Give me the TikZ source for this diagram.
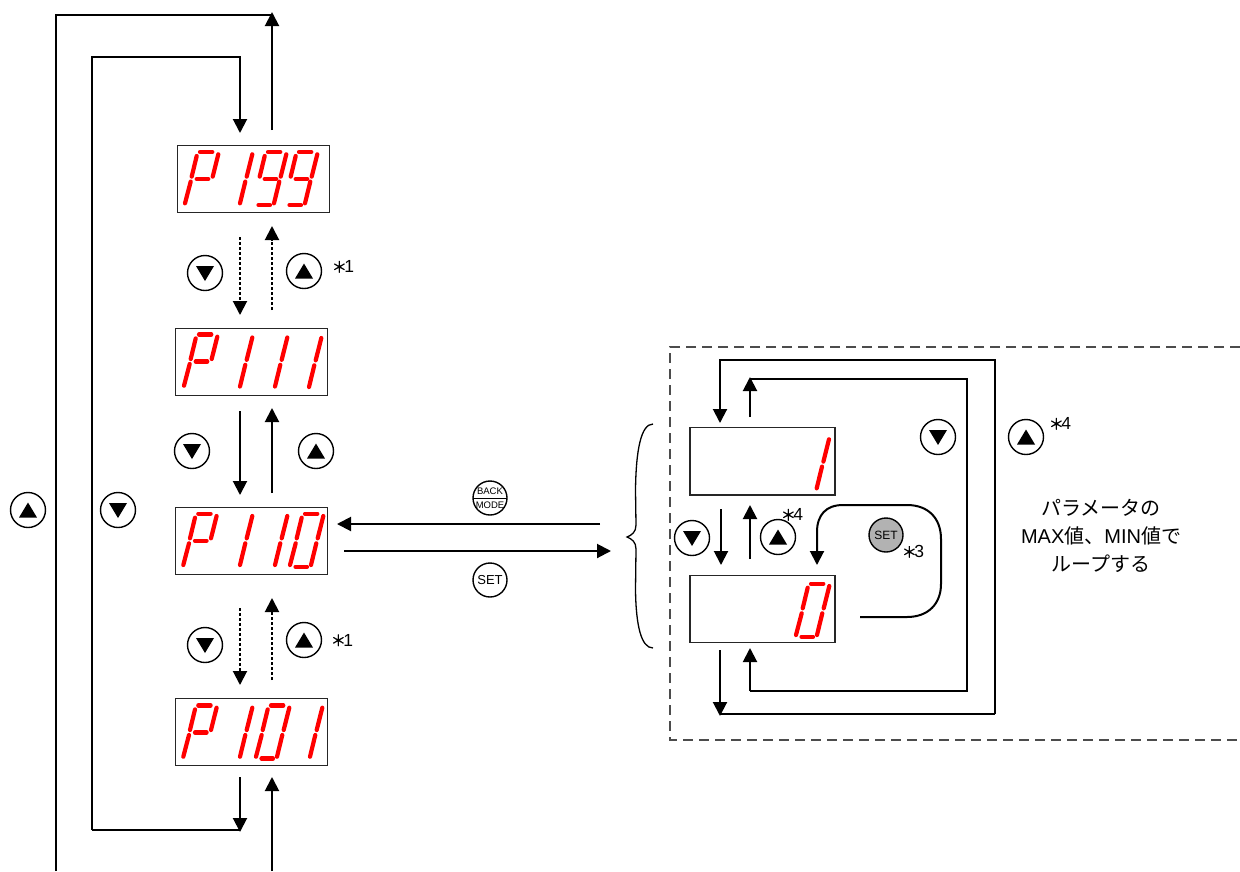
\documentclass[tikz,border=0pt]{standalone}
\usepackage{fontspec}
\setmainfont{Liberation Sans}
\newfontfamily\cjk{Noto Sans CJK JP}
\newfontfamily\cjkstar[FakeBold=1.2]{Noto Sans CJK JP}
\usetikzlibrary{arrows.meta}
\tikzset{
  conn/.style={line width=2pt},
  arr/.style={conn,-{Triangle[length=14pt,width=14pt]}},
  dotarr/.style={arr,dash pattern=on 3pt off 2pt},
  dispbox/.style={draw=black!85,line width=1.4pt,inner sep=0pt,outer sep=0pt,anchor=north west},
  btn/.style={circle,draw,line width=1.4pt,minimum size=35pt,inner sep=0pt,outer sep=0pt,fill=white},
  segline/.style={red,line width=4.2pt,line cap=round},
  note/.style={font=\fontsize{17.5}{18}\selectfont,inner sep=0pt},
}
\newcommand{\segA}{\draw[segline] (15,-51.3) -- (27.3,-51.3);}
\newcommand{\segB}{\draw[segline] (33.3,-49) -- (27.7,-26.7);}
\newcommand{\segC}{\draw[segline] (26.3,-21.7) -- (21,0);}
\newcommand{\segD}{\draw[segline] (5.5,1.7) -- (17,1.7);}
\newcommand{\segE}{\draw[segline] (5.7,-21.7) -- (0,0);}
\newcommand{\segF}{\draw[segline] (11.7,-47.3) -- (6.7,-26.7);}
\newcommand{\segG}{\draw[segline] (11.7,-24.3) -- (23.3,-24.3);}
\newcommand{\digP}[2]{\begin{scope}[shift={(#1,#2)}]\segA\segB\segE\segF\segG\end{scope}}
\newcommand{\digI}[2]{\begin{scope}[shift={(#1,#2)}]\segB\segC\end{scope}}
\newcommand{\digO}[2]{\begin{scope}[shift={(#1,#2)}]\segA\segB\segC\segD\segE\segF\end{scope}}
\newcommand{\digN}[2]{\begin{scope}[shift={(#1,#2)}]\segA\segB\segC\segD\segF\segG\end{scope}}
\newcommand{\btnDown}[3]{\node[btn] (#1) at (#2,#3) {};\fill (#1.center) ++(-9,-7) -- ++(18,0) -- ++(-9,15) -- cycle;}
\newcommand{\btnUp}[3]{\node[btn] (#1) at (#2,#3) {};\fill (#1.center) ++(-9,7.5) -- ++(18,0) -- ++(-9,-15) -- cycle;}
\newcommand{\Dbox}[5]{\node[dispbox,minimum width=#4pt,minimum height=#5pt] (#1) at (#2,#3) {};}
\newcommand{\Star}{{\fontsize{15}{15}\cjkstar ＊}\kern-2.5pt}
\begin{document}
\begin{tikzpicture}[x=1pt,y=-1pt]
\useasboundingbox (0,0) rectangle (1240,871);
% display boxes
\Dbox{p199}{177.5}{145.5}{152}{67}
\Dbox{p111}{175.5}{328.5}{152}{67}
\Dbox{p110}{175.5}{507.5}{152}{67}
\Dbox{p101}{175.5}{698.5}{152}{67}
\Dbox{v1}{690}{427.5}{145}{67.5}
\Dbox{v0}{690}{575.5}{145}{67}
% digits
\digP{185}{203.3}\digI{219}{203.3}\digN{253}{203.3}\digN{284}{203.3}
\digP{184}{385.7}\digI{219}{386.5}\digI{254}{386.5}\digI{288}{387}
\digP{183.3}{565}\digI{219}{565}\digI{254}{565}\digO{290}{565}
\digP{183.3}{756.7}\digI{219}{756.7}\digO{256}{756.7}\digI{289}{756.7}
\digI{795.7}{488.3}
\digO{796}{635}
% connector end points
\coordinate (a1) at (272,130);\coordinate (a2) at (272,12);
\coordinate (o1) at (56,871);\coordinate (o2) at (56,15);\coordinate (o3) at (272,15);
\coordinate (i1) at (92,57);\coordinate (i2) at (240,57);\coordinate (i3) at (240,133);
\coordinate (i4) at (92,830);\coordinate (i5) at (240,830);
\coordinate (b1) at (240,777);\coordinate (b2) at (240,832);
\coordinate (c1) at (272,871);\coordinate (c2) at (272,777);
\draw[arr] (a1) -- (a2);
\draw[conn] (o1) -- (o2) -- (o3);
\draw[arr] (i4) -- (i1) -- (i2) -- (i3);
\draw[conn] (i4) -- (i5);
\draw[arr] (b1) -- (b2);
\draw[arr] (c1) -- (c2);
% vertical links
\coordinate (d1) at (240,237);\coordinate (d2) at (240,315);
\coordinate (d3) at (272,310);\coordinate (d4) at (272,226);
\draw[dotarr] (d1) -- (d2);\draw[dotarr] (d3) -- (d4);
\coordinate (e1) at (240,411);\coordinate (e2) at (240,495);
\coordinate (e3) at (272,493);\coordinate (e4) at (272,408);
\draw[arr] (e1) -- (e2);\draw[arr] (e3) -- (e4);
\coordinate (f1) at (240,608);\coordinate (f2) at (240,685);
\coordinate (f3) at (272,680);\coordinate (f4) at (272,598);
\draw[dotarr] (f1) -- (f2);\draw[dotarr] (f3) -- (f4);
% horizontal links
\coordinate (g1) at (600,524);\coordinate (g2) at (337,524);
\coordinate (g3) at (344,551);\coordinate (g4) at (611,551);
\draw[arr] (g1) -- (g2);\draw[arr] (g3) -- (g4);
% buttons
\btnDown{s1}{205}{273}\btnUp{s2}{304}{271}
\btnDown{s3}{192}{451}\btnUp{s4}{316}{451}
\btnUp{s5}{28}{510}\btnDown{s6}{118}{510}
\btnDown{s7}{205}{645}\btnUp{s8}{304}{640}
\btnDown{s9}{938}{437}\btnUp{s10}{1026}{437}
\btnDown{s11}{692}{538}\btnUp{s12}{778}{537}
\node[note] (n1) at (343,266.5) {\Star 1};
\node[note] (n2) at (342,640) {\Star 1};
\node[note] (n3) at (1060,423.5) {\Star 4};
\node[note] (n4) at (792,514.5) {\Star 4};
\node[note] (n5) at (913,551.5) {\Star 3};
% BACK/MODE and SET
\node[btn,minimum size=34pt] (bm) at (490,498) {};
\draw[line width=1pt] (bm.west) -- (bm.east);
\node[font=\fontsize{9.5}{10}\selectfont,inner sep=0pt] (bmt) at (490,491) {BACK};
\node[font=\fontsize{9.5}{10}\selectfont,inner sep=0pt] (bmm) at (490,505) {MODE};
\node[btn,minimum size=34pt,font=\fontsize{13}{13}\selectfont] (st) at (490,580) {SET};
\node[btn,minimum size=34pt,fill=black!30,font=\fontsize{12}{12}\selectfont] (sg) at (886,535) {SET};
% brace
\coordinate (br1) at (653,424);\coordinate (br2) at (627,537);\coordinate (br3) at (653,648);
\draw[line width=1.3pt] (br1) .. controls (641,424) and (636,450) .. (635.5,490) -- (636,525)
  .. controls (636,532) and (632,535) .. (br2)
  .. controls (632,539) and (636,542) .. (636,549) -- (635.5,590)
  .. controls (636,625) and (641,648) .. (br3);
% dashed frame
\coordinate (fa) at (1240,347);\coordinate (fb) at (670,347);
\coordinate (fc) at (670,740);\coordinate (fd) at (1240,740);
\draw[draw=black!70,line width=1.2pt,dash pattern=on 10pt off 6pt] (fa) -- (fb) -- (fc) -- (fd);
% value loop
\coordinate (h1) at (995,360);\coordinate (h2) at (720,360);\coordinate (h3) at (720,423);
\coordinate (h4) at (995,714);\coordinate (h5) at (720,714);
\draw[arr] (h4) -- (h1) -- (h2) -- (h3);
\draw[conn] (h4) -- (h5);
\coordinate (h6) at (720,650);\coordinate (h7) at (720,716);
\draw[arr] (h6) -- (h7);
\coordinate (j1) at (750,417);\coordinate (j2) at (750,377);
\draw[arr] (j1) -- (j2);
\coordinate (j3) at (750,379);\coordinate (j4) at (967,379);\coordinate (j5) at (967,691);\coordinate (j6) at (750,691);\coordinate (j7) at (750,648);
\draw[conn] (j3) -- (j4) -- (j5) -- (j6);
\draw[arr] (j6) -- (j7);
\coordinate (k1) at (721,509);\coordinate (k2) at (721,565);
\coordinate (k3) at (750,559);\coordinate (k4) at (750,505);
\draw[arr] (k1) -- (k2);\draw[arr] (k3) -- (k4);
\coordinate (m1) at (860,617);\coordinate (m2) at (817,565);
\draw[arr] (m1) -- (907,617) .. controls (928,617) and (941,604) .. (941,584) -- (941,539)
  .. controls (941,518) and (928,505) .. (907,505) -- (843,505)
  .. controls (826,505) and (817,515) .. (817,532) -- (m2);
% note
\node[font=\fontsize{20}{28}\selectfont,align=center,inner sep=0pt] (txt) at (1101,535.5)
  {{\cjk パラメータの}\\MAX{\cjk 値、}MIN{\cjk 値で}\\{\cjk ループする}};
\end{tikzpicture}
\end{document}
